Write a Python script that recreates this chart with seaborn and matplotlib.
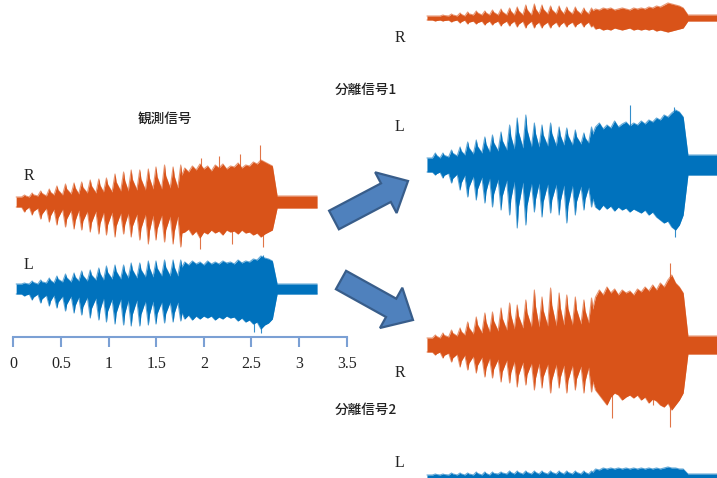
import matplotlib
matplotlib.use("Agg")
import matplotlib.pyplot as plt
import seaborn as sns
import pandas as pd
from matplotlib.patches import FancyArrow

sns.set_theme(style="white")
plt.rcParams['font.family'] = ['Noto Sans CJK JP', 'DejaVu Sans']

# ---------------- data (envelopes; amplitude units ~ px) -------------
START_T, FALL_T, END_T = 0.03, 2.77, 3.19
BEAT_T = [0.13, 0.21, 0.30, 0.39, 0.47, 0.56, 0.65, 0.73, 0.82, 0.91,
          0.99, 1.08, 1.17, 1.25, 1.34, 1.43, 1.51, 1.60, 1.69, 1.77]
DENSE_T = [1.80, 1.84, 1.88, 1.92, 1.96, 2.00, 2.04, 2.08, 2.12, 2.16, 2.20, 2.24,
           2.28, 2.32, 2.36, 2.40, 2.44, 2.48, 2.52, 2.56, 2.60, 2.64, 2.68, 2.72]
TIME_TICKS = [0, 0.5, 1, 1.5, 2, 2.5, 3, 3.5]
TIME_LABELS = ["0", "0.5", "1", "1.5", "2", "2.5", "3", "3.5"]

# observed R
obs_r_top = [7, 9, 11, 13, 16, 18, 19, 20, 22, 23, 24, 28, 30, 32, 32, 33, 35, 37, 35, 37]
obs_r_bot = [10, 13, 17, 20, 23, 25, 27, 28, 30, 32, 33, 35, 32, 35, 38, 42, 38, 40, 42, 45]
obs_r_trough = [5, 5, 6, 6, 7, 7, 8, 8, 9, 9, 10, 10, 11, 11, 12, 12, 13, 13, 14, 14]
obs_r_dtop = [34, 30, 36, 32, 38, 33, 36, 31, 37, 34, 38, 33, 36, 35, 39, 34, 37, 36, 40, 38, 42, 40, 38, 36]
obs_r_dbot = [30, 27, 33, 29, 36, 30, 32, 28, 31, 29, 33, 28, 30, 29, 32, 28, 31, 30, 33, 31, 35, 32, 30, 28]
obs_r_tail = 6
obs_r_spk_up_t = [1.97, 2.16, 2.38, 2.59]
obs_r_spk_up_a = [44, 46, 48, 57]
obs_r_spk_dn_t = [1.96, 2.30, 2.62]
obs_r_spk_dn_a = [47, 42, 45]

# observed L
obs_l_top = [6, 8, 9, 11, 13, 15, 16, 18, 19, 21, 23, 24, 24, 26, 26, 28, 28, 29, 29, 29]
obs_l_bot = [7, 11, 14, 17, 19, 22, 24, 26, 29, 31, 33, 35, 36, 37, 37, 36, 35, 34, 33, 32]
obs_l_trough = [5, 5, 5, 6, 6, 7, 7, 8, 8, 9, 9, 10, 10, 11, 11, 12, 12, 13, 13, 13]
obs_l_dtop = [27, 24, 28, 25, 27, 24, 28, 25, 27, 25, 28, 26, 27, 25, 29, 26, 28, 27, 30, 29, 33, 31, 30, 28]
obs_l_dbot = [30, 26, 31, 27, 30, 27, 29, 27, 31, 28, 30, 27, 29, 28, 32, 29, 33, 31, 35, 33, 40, 36, 34, 30]
obs_l_tail = 5
obs_l_spk_up_t = [2.62]
obs_l_spk_up_a = [34]
obs_l_spk_dn_t = [2.53, 2.60]
obs_l_spk_dn_a = [43, 44]

# separated 1, R (small)
s1_r_top = [2, 3, 4, 5, 6, 7, 7, 8, 9, 10, 11, 13, 14, 13, 12, 12, 11, 11, 10, 10]
s1_r_bot = [3, 3, 4, 5, 6, 6, 7, 7, 8, 8, 9, 10, 10, 10, 10, 9, 9, 9, 9, 9]
s1_r_trough = [2, 2, 2, 2, 2, 3, 3, 3, 3, 3, 3, 3, 3, 4, 4, 4, 4, 4, 4, 4]
s1_r_dtop = [9, 8, 10, 9, 10, 8, 9, 10, 9, 8, 10, 9, 10, 9, 11, 10, 12, 11, 13, 15, 14, 13, 12, 10]
s1_r_dbot = [11, 10, 12, 11, 12, 10, 11, 12, 11, 10, 12, 11, 12, 11, 12, 11, 13, 12, 13, 14, 13, 12, 11, 10]
s1_r_tail = 3

# separated 1, L (large)
s1_l_top = [12, 12, 15, 18, 23, 25, 28, 30, 33, 40, 47, 50, 42, 40, 42, 38, 37, 35, 32, 38]
s1_l_bot = [10, 13, 18, 25, 32, 35, 38, 42, 45, 50, 63, 60, 47, 52, 48, 50, 58, 50, 45, 42]
s1_l_trough = [7, 7, 8, 9, 10, 11, 12, 13, 14, 15, 16, 17, 18, 18, 19, 19, 20, 20, 21, 22]
s1_l_dtop = [38, 42, 36, 40, 37, 44, 38, 41, 43, 39, 42, 40, 44, 41, 45, 43, 47, 45, 50, 48, 52, 55, 53, 48]
s1_l_dbot = [42, 45, 40, 44, 41, 46, 42, 45, 43, 47, 44, 46, 48, 45, 50, 47, 52, 55, 58, 56, 62, 65, 60, 50]
s1_l_tail = 10
s1_l_spk_up_t = [2.16, 2.62]
s1_l_spk_up_a = [60, 58]
s1_l_spk_dn_t = [2.63]
s1_l_spk_dn_a = [72]

# separated 2, R (large)
s2_r_top = [10, 12, 15, 17, 23, 28, 32, 33, 37, 42, 40, 45, 55, 48, 57, 52, 50, 48, 45, 47]
s2_r_bot = [10, 13, 17, 22, 25, 28, 32, 33, 37, 38, 42, 40, 45, 43, 48, 43, 48, 45, 48, 47]
s2_r_trough = [7, 7, 8, 9, 10, 11, 12, 13, 14, 15, 16, 17, 18, 18, 19, 19, 20, 20, 21, 22]
s2_r_dtop = [48, 55, 50, 58, 52, 56, 50, 55, 52, 54, 50, 56, 53, 58, 54, 60, 55, 62, 58, 65, 70, 62, 58, 52]
s2_r_dbot = [45, 50, 55, 60, 52, 48, 50, 55, 52, 50, 53, 50, 55, 52, 58, 54, 56, 60, 62, 58, 65, 60, 55, 48]
s2_r_tail = 9
s2_r_spk_up_t = [2.58]
s2_r_spk_up_a = [82]
s2_r_spk_dn_t = [1.97, 2.40, 2.58]
s2_r_spk_dn_a = [73, 60, 82]

# separated 2, L (small)
s2_l_top = [5, 5, 6, 6, 6, 7, 7, 7, 7, 8, 8, 8, 8, 8, 8, 8, 8, 8, 8, 8]
s2_l_bot = [5, 5, 6, 6, 6, 7, 7, 7, 7, 8, 8, 8, 8, 8, 8, 8, 8, 8, 8, 8]
s2_l_trough = [4, 4, 4, 4, 4, 4, 4, 4, 5, 5, 5, 5, 5, 5, 5, 5, 5, 5, 5, 5]
s2_l_dtop = [10, 9, 11, 10, 11, 10, 11, 10, 11, 10, 11, 10, 11, 10, 11, 10, 11, 10, 11, 12, 11, 11, 10, 10]
s2_l_dbot = s2_l_dtop
s2_l_tail = 5

ORANGE = "#D95319"
BLUE = "#0072BD"

# ---------------- figure ----------------
W, H = 717, 478
fig = plt.figure(figsize=(W / 100, H / 100), dpi=100)
PX_PER_S = 95.24


def wave_axes(x0, cy, half=100):
    w = 3.5 * PX_PER_S
    ax = fig.add_axes([x0 / W, 1 - (cy + half) / H, w / W, 2 * half / H])
    ax.set_xlim(0, 3.5)
    ax.set_ylim(-half, half)
    ax.axis("off")
    ax.patch.set_alpha(0)
    return ax


def draw_wave(ax, top, bot, trough, dtop, dbot, tail, color,
              up_t=(), up_a=(), dn_t=(), dn_a=()):
    t = [START_T]
    up = [trough[0]]
    lo = [trough[0]]
    for bt, a, b, c in zip(BEAT_T, top, bot, trough):
        t += [bt - 0.043, bt - 0.012, bt]
        up += [c, a, c + (a - c) * 0.55]
        lo += [c, b, c + (b - c) * 0.55]
    t += DENSE_T
    up += dtop
    lo += dbot
    t += [FALL_T, END_T]
    up += [tail, tail]
    lo += [tail, tail]
    df = pd.DataFrame({"t": t, "up": up, "lo": [-v for v in lo]})
    ax.fill_between(df["t"], df["lo"], df["up"], color=color, lw=0)
    sns.lineplot(data=df, x="t", y="up", ax=ax, color=color, lw=0.8,
                 alpha=0.6, estimator=None, sort=False)
    sns.lineplot(data=df, x="t", y="lo", ax=ax, color=color, lw=0.8,
                 alpha=0.6, estimator=None, sort=False)
    if len(up_t):
        ax.vlines(up_t, 0, up_a, color=color, lw=0.8, alpha=0.8)
    if len(dn_t):
        ax.vlines(dn_t, [-v for v in dn_a], 0, color=color, lw=0.8, alpha=0.8)
    ax.set_xlim(0, 3.5)
    ax.axis("off")


LEFT_X0 = 13.3
RIGHT_X0 = 424.1

ax = wave_axes(LEFT_X0, 202)
draw_wave(ax, obs_r_top, obs_r_bot, obs_r_trough, obs_r_dtop, obs_r_dbot, obs_r_tail,
          ORANGE, obs_r_spk_up_t, obs_r_spk_up_a, obs_r_spk_dn_t, obs_r_spk_dn_a)
ax = wave_axes(LEFT_X0, 289)
draw_wave(ax, obs_l_top, obs_l_bot, obs_l_trough, obs_l_dtop, obs_l_dbot, obs_l_tail,
          BLUE, obs_l_spk_up_t, obs_l_spk_up_a, obs_l_spk_dn_t, obs_l_spk_dn_a)

ax = wave_axes(RIGHT_X0, 18)
draw_wave(ax, s1_r_top, s1_r_bot, s1_r_trough, s1_r_dtop, s1_r_dbot, s1_r_tail, ORANGE)
ax = wave_axes(RIGHT_X0, 165)
draw_wave(ax, s1_l_top, s1_l_bot, s1_l_trough, s1_l_dtop, s1_l_dbot, s1_l_tail,
          BLUE, s1_l_spk_up_t, s1_l_spk_up_a, s1_l_spk_dn_t, s1_l_spk_dn_a)
ax = wave_axes(RIGHT_X0, 345)
draw_wave(ax, s2_r_top, s2_r_bot, s2_r_trough, s2_r_dtop, s2_r_dbot, s2_r_tail,
          ORANGE, s2_r_spk_up_t, s2_r_spk_up_a, s2_r_spk_dn_t, s2_r_spk_dn_a)
ax = wave_axes(RIGHT_X0, 479)
draw_wave(ax, s2_l_top, s2_l_bot, s2_l_trough, s2_l_dtop, s2_l_dbot, s2_l_tail, BLUE)

# time axis (line on top, ticks hanging down)
axt = fig.add_axes([LEFT_X0 / W, 1 - 337 / H, 3.5 * PX_PER_S / W, 0.5 / H])
axt.set_xlim(0, 3.5)
axt.set_ylim(0, 1)
axt.patch.set_alpha(0)
for s in ["top", "left", "right"]:
    axt.spines[s].set_visible(False)
axt.spines["bottom"].set_color("#7BA0D4")
axt.spines["bottom"].set_linewidth(1.5)
axt.set_yticks([])
axt.set_xticks(TIME_TICKS)
axt.set_xticklabels(TIME_LABELS, family="Liberation Serif", fontsize=11.5, color="#222222")
axt.tick_params(axis="x", direction="out", length=7.5, width=1.5, color="#7BA0D4",
                pad=6.5, bottom=True)
axt.grid(False)

# overlay for labels and arrows (pixel coordinates)
ov = fig.add_axes([0, 0, 1, 1])
ov.set_xlim(0, W)
ov.set_ylim(H, 0)
ov.axis("off")
ov.patch.set_alpha(0)

serif = dict(family="Liberation Serif", fontsize=11.5, color="#222222", ha="center", va="center")
jp = dict(fontsize=9.8, color="#222222", ha="center", va="center", weight="medium")
ov.text(165, 119, "観測信号", **jp)
ov.text(29, 176, "R", **serif)
ov.text(28, 265, "L", **serif)
ov.text(400, 38, "R", **serif)
ov.text(366, 90, "分離信号1", **jp)
ov.text(399, 127, "L", **serif)
ov.text(400, 373, "R", **serif)
ov.text(366, 410, "分離信号2", **jp)
ov.text(399, 463, "L", **serif)

arrow_kw = dict(width=21, head_width=46, head_length=25, length_includes_head=True,
                facecolor="#4F81BD", edgecolor="#385D8A", linewidth=1.6)
ov.add_patch(FancyArrow(334, 220, 408 - 334, 181 - 220, **arrow_kw))
ov.add_patch(FancyArrow(341, 280, 413 - 341, 320 - 280, **arrow_kw))

fig.savefig("out.png", dpi=100)
